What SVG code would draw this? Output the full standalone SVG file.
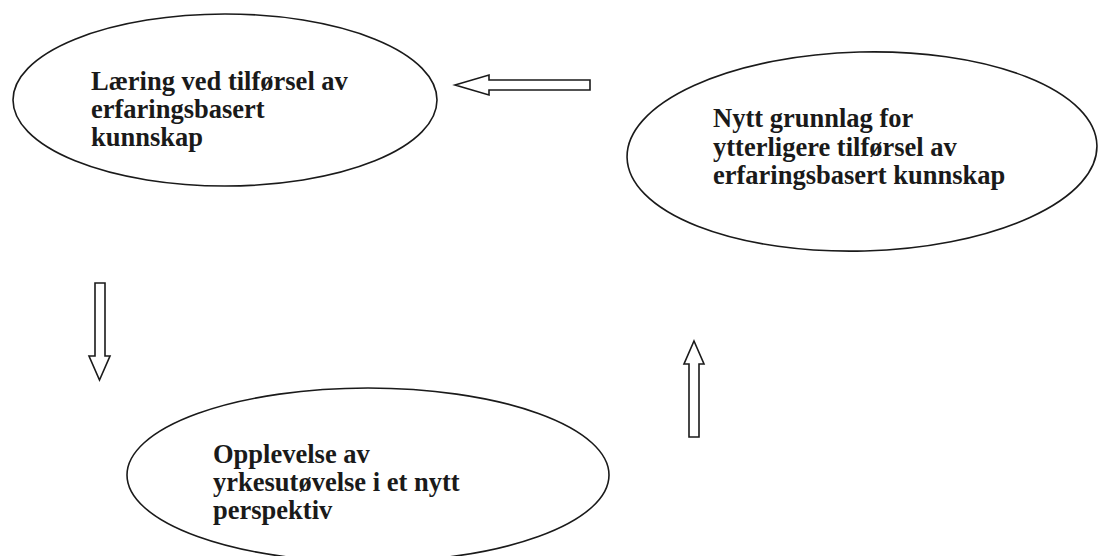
<svg xmlns="http://www.w3.org/2000/svg" width="1098" height="556" viewBox="0 0 1098 556">
<style>
.node ellipse{fill:none;stroke:#1a1a1a;stroke-width:1.6}
.lbl{font-family:"Liberation Serif","Times New Roman",serif;font-weight:bold;font-size:26.5px;fill:#1a1a1a}
.arr{fill:#fff;stroke:#1a1a1a;stroke-width:1.6;stroke-linejoin:miter}
</style>
<rect width="1098" height="556" fill="#fff"/>
<g id="node-laering" class="node">
<ellipse cx="225" cy="100" rx="212" ry="86"/>
<text class="lbl"><tspan x="91" y="90">Læring ved tilførsel av</tspan><tspan x="91" y="118">erfaringsbasert</tspan><tspan x="91" y="146">kunnskap</tspan></text>
</g>
<g id="node-nytt" class="node">
<ellipse cx="862" cy="151.5" rx="235" ry="99.5" transform="rotate(-1.5 862 151.5)"/>
<text class="lbl"><tspan x="713" y="127">Nytt grunnlag for</tspan><tspan x="713" y="155.5">ytterligere tilførsel av</tspan><tspan x="713" y="184">erfaringsbasert kunnskap</tspan></text>
</g>
<g id="node-opplevelse" class="node">
<ellipse cx="368" cy="475" rx="241" ry="87"/>
<text class="lbl"><tspan x="213" y="463">Opplevelse av</tspan><tspan x="213" y="491">yrkesutøvelse i et nytt</tspan><tspan x="213" y="519">perspektiv</tspan></text>
</g>
<g id="connectors">
<polygon class="arr" points="455,85 489,75 489,80 590,80 590,90 489,90 489,95"/>
<polygon class="arr" points="95,283 105,283 105,356 110,356 99.5,380 89,356 95,356"/>
<polygon class="arr" points="694,341 704,364 699,364 699,437 689,437 689,364 684,364"/>
</g>
</svg>
